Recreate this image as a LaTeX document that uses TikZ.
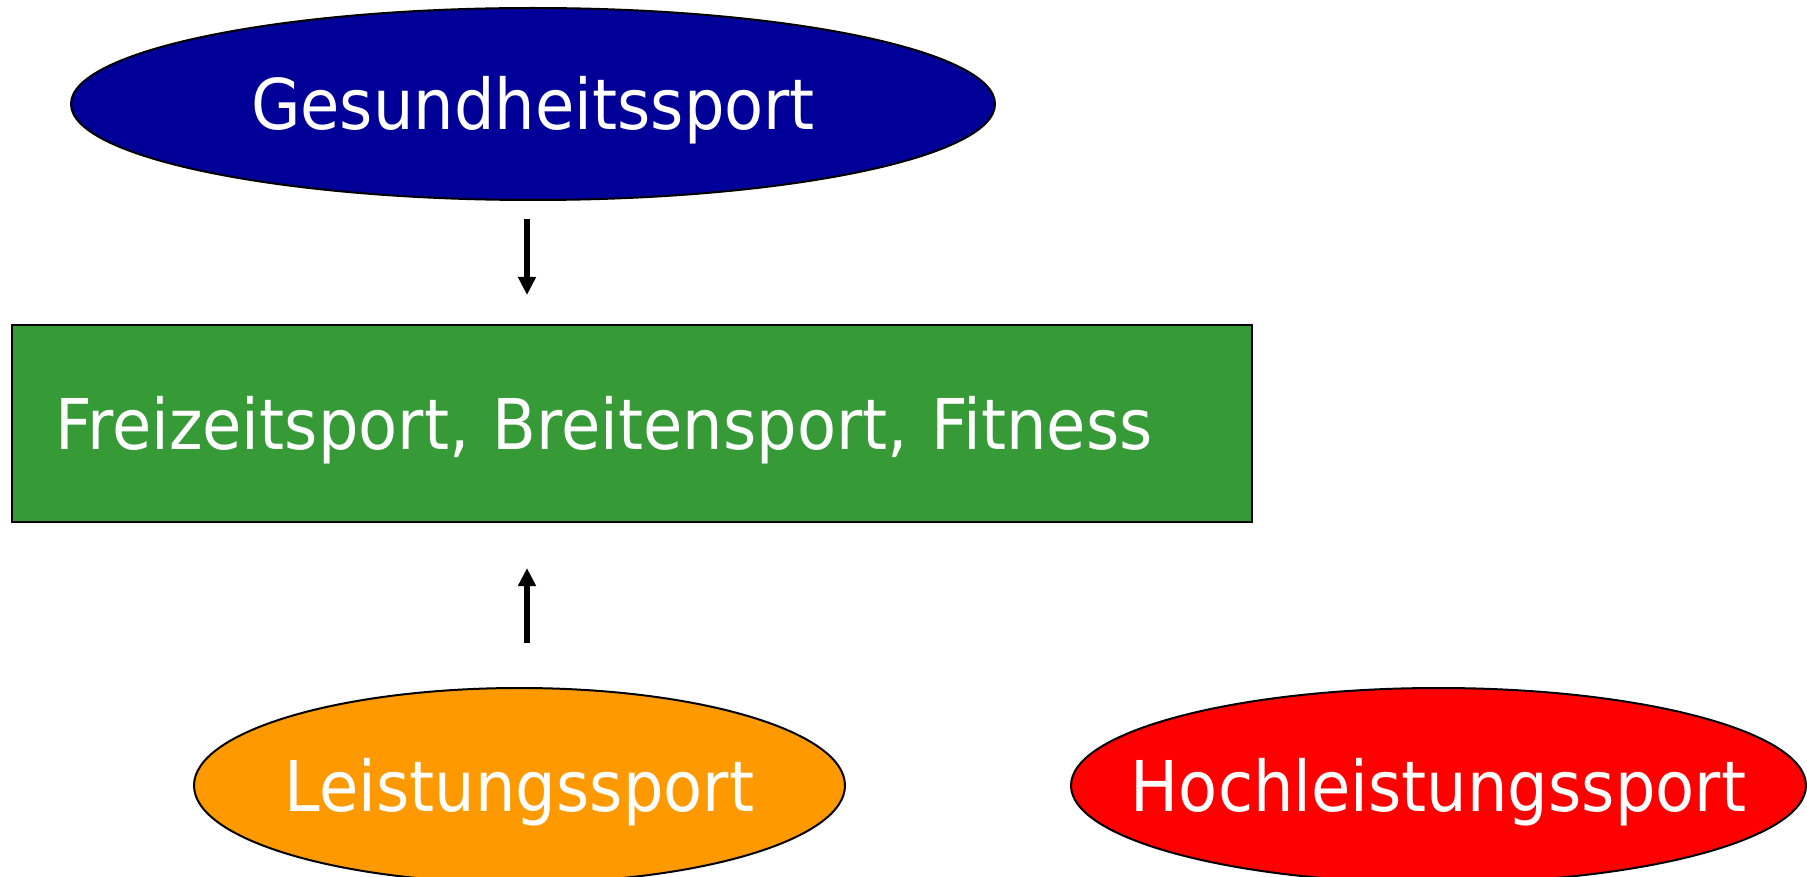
\documentclass[tikz,border=0pt]{standalone}
\usepackage{fontspec}
\setmainfont[FakeStretch=0.913]{DejaVu Sans}
\usetikzlibrary{shapes.geometric,arrows.meta}
\begin{document}
\begin{tikzpicture}[x=1pt,y=-1pt,
    txt/.style={text=white,inner sep=0pt,text height=51pt,text depth=0pt,
      font=\fontsize{70}{84}\selectfont},
    oval/.style={ellipse,draw=black,line width=2pt,inner sep=0pt},
    box/.style={rectangle,draw=black,line width=2pt,align=left,txt},
    pfeil/.style={line width=6pt,-{Triangle[width=17pt,length=18pt]}}]
  \useasboundingbox (0,0) rectangle (1807,877);
  \definecolor{gesundblau}{RGB}{0,0,153}
  \definecolor{freigruen}{RGB}{54,154,54}
  \definecolor{leistorange}{RGB}{255,153,0}
  \definecolor{hochrot}{RGB}{255,0,0}
  \node[oval,fill=gesundblau,minimum width=924pt,minimum height=192pt,
    label={[txt]center:Gesundheitssport}] (gesund) at (533,104) {};
  \node[box,fill=freigruen,minimum height=197pt,text width=1154pt,inner xsep=43pt] (frei) at (632,423.5) {Freizeitsport, Breitensport, Fitness};
  \node[oval,fill=leistorange,minimum width=651pt,minimum height=195pt,
    label={[txt]center:Leistungssport}] (leist) at (519.5,785.5) {};
  \node[oval,fill=hochrot,minimum width=735pt,minimum height=195pt,
    label={[txt]center:Hochleistungssport}] (hoch) at (1438.5,785.5) {};
  % Pfeile
  \coordinate (a1) at (527,219); \coordinate (a2) at (527,295);
  \coordinate (b1) at (527,643); \coordinate (b2) at (527,568);
  \draw[pfeil] (a1) -- (a2);
  \draw[pfeil] (b1) -- (b2);
\end{tikzpicture}
\end{document}
